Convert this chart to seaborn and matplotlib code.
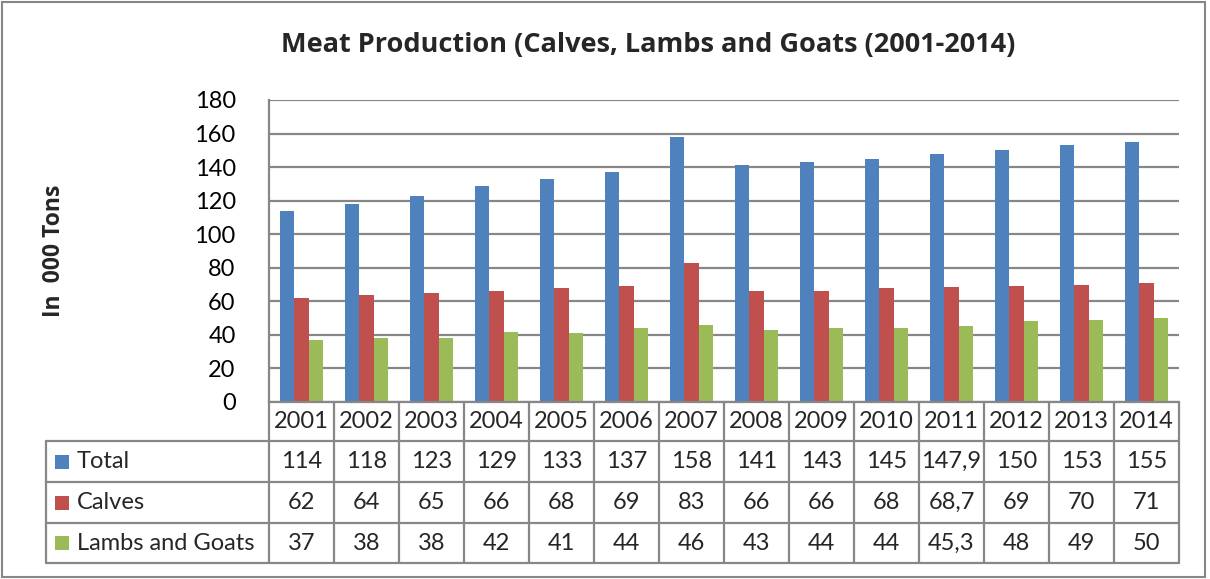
import numpy as np
import pandas as pd
import matplotlib
matplotlib.use("Agg")
import matplotlib.pyplot as plt
from matplotlib.patches import Rectangle
import seaborn as sns

years = [str(y) for y in range(2001, 2015)]
total = [114, 118, 123, 129, 133, 137, 158, 141, 143, 145, 147.9, 150, 153, 155]
calves = [62, 64, 65, 66, 68, 69, 83, 66, 66, 68, 68.7, 69, 70, 71]
lambs = [37, 38, 38, 42, 41, 44, 46, 43, 44, 44, 45.3, 48, 49, 50]
series_names = ["Total", "Calves", "Lambs and Goats"]
colors = ["#4F81BD", "#C0504D", "#9BBB59"]


def fmt(v):
    """Excel style number with comma decimal"""
    return f"{v:g}".replace(".", ",")


sns.set_theme(style="white")
plt.rcParams['font.family'] = ['Lato', 'DejaVu Sans']
FS = 17

df = pd.DataFrame({
    'year': years * 3,
    'series': [s for s in series_names for _ in years],
    'value': total + calves + lambs,
})

W, H = 1210, 579
fig = plt.figure(figsize=(W / 100, H / 100), dpi=100)
left, right, top, bottom = 269, 1179, 100, 402
ax = fig.add_axes([left / W, 1 - bottom / H, (right - left) / W, (bottom - top) / H])

sns.barplot(data=df, x='year', y='value', hue='series', palette=colors,
            width=0.65, linewidth=0, saturation=1, legend=False, ax=ax)

n = len(years)
grid_c = "#878787"
ax.set_xlim(-0.5, n - 0.5)
ax.set_ylim(0, 180)
ax.set_yticks(range(0, 181, 20))
ax.yaxis.grid(True, color=grid_c, linewidth=1.6)
ax.set_axisbelow(True)
ax.set_xlabel("")
ax.set_ylabel("")
ax.set_xticks([])
ax.tick_params(axis='y', length=0, pad=24, labelsize=FS, labelcolor="black")
for s in ['top', 'right']:
    ax.spines[s].set_visible(False)
for s in ['left', 'bottom']:
    ax.spines[s].set_color(grid_c)
    ax.spines[s].set_linewidth(1.6)

# data table under the plot, in axes coordinates
ph = bottom - top
pw = right - left
row_edges = [0, -39 / ph, -80 / ph, -121 / ph, -161 / ph]
lab_left = (46 - left) / pw
lk = dict(color=grid_c, linewidth=1.6, transform=ax.transAxes, clip_on=False)

ax.plot([0, 1], [row_edges[1]] * 2, **lk)
ax.plot([lab_left, 0], [row_edges[1]] * 2, **lk)
for r in row_edges[2:]:
    ax.plot([lab_left, 1], [r, r], **lk)
for i in range(n + 1):
    ax.plot([i / n, i / n], [row_edges[0], row_edges[-1]], **lk)
ax.plot([lab_left, lab_left], [row_edges[1], row_edges[-1]], **lk)

for i, y in enumerate(years):
    ax.text((i + 0.5) / n, (row_edges[0] + row_edges[1]) / 2, y, transform=ax.transAxes,
            ha='center', va='center', fontsize=FS)

for k, (name, vals) in enumerate(zip(series_names, [total, calves, lambs])):
    yc = (row_edges[k + 1] + row_edges[k + 2]) / 2
    ax.add_patch(Rectangle((lab_left + 9 / pw, yc - 7 / ph), 14 / pw, 14 / ph,
                           facecolor=colors[k], edgecolor='none',
                           transform=ax.transAxes, clip_on=False))
    ax.text(lab_left + 31 / pw, yc, name, transform=ax.transAxes,
            ha='left', va='center', fontsize=FS)
    for i, v in enumerate(vals):
        ax.text((i + 0.5) / n, yc, fmt(v), transform=ax.transAxes,
                ha='center', va='center', fontsize=FS)

fig.text(648 / W, 1 - 45 / H, "Meat Production (Calves, Lambs and Goats (2001-2014)",
         ha='center', va='center', fontsize=19.5, fontweight='bold',
         family=['Open Sans', 'DejaVu Sans'])
fig.text(54 / W, 1 - 251 / H, "In  000 Tons", rotation=90,
         ha='center', va='center', fontsize=16.5, fontweight='bold',
         family=['Open Sans', 'DejaVu Sans'])

fig.patches.append(Rectangle((0.002, 0.003), 0.994, 0.994, transform=fig.transFigure,
                             facecolor='none', edgecolor=grid_c, linewidth=1.5))

fig.savefig("out.png", dpi=100)
